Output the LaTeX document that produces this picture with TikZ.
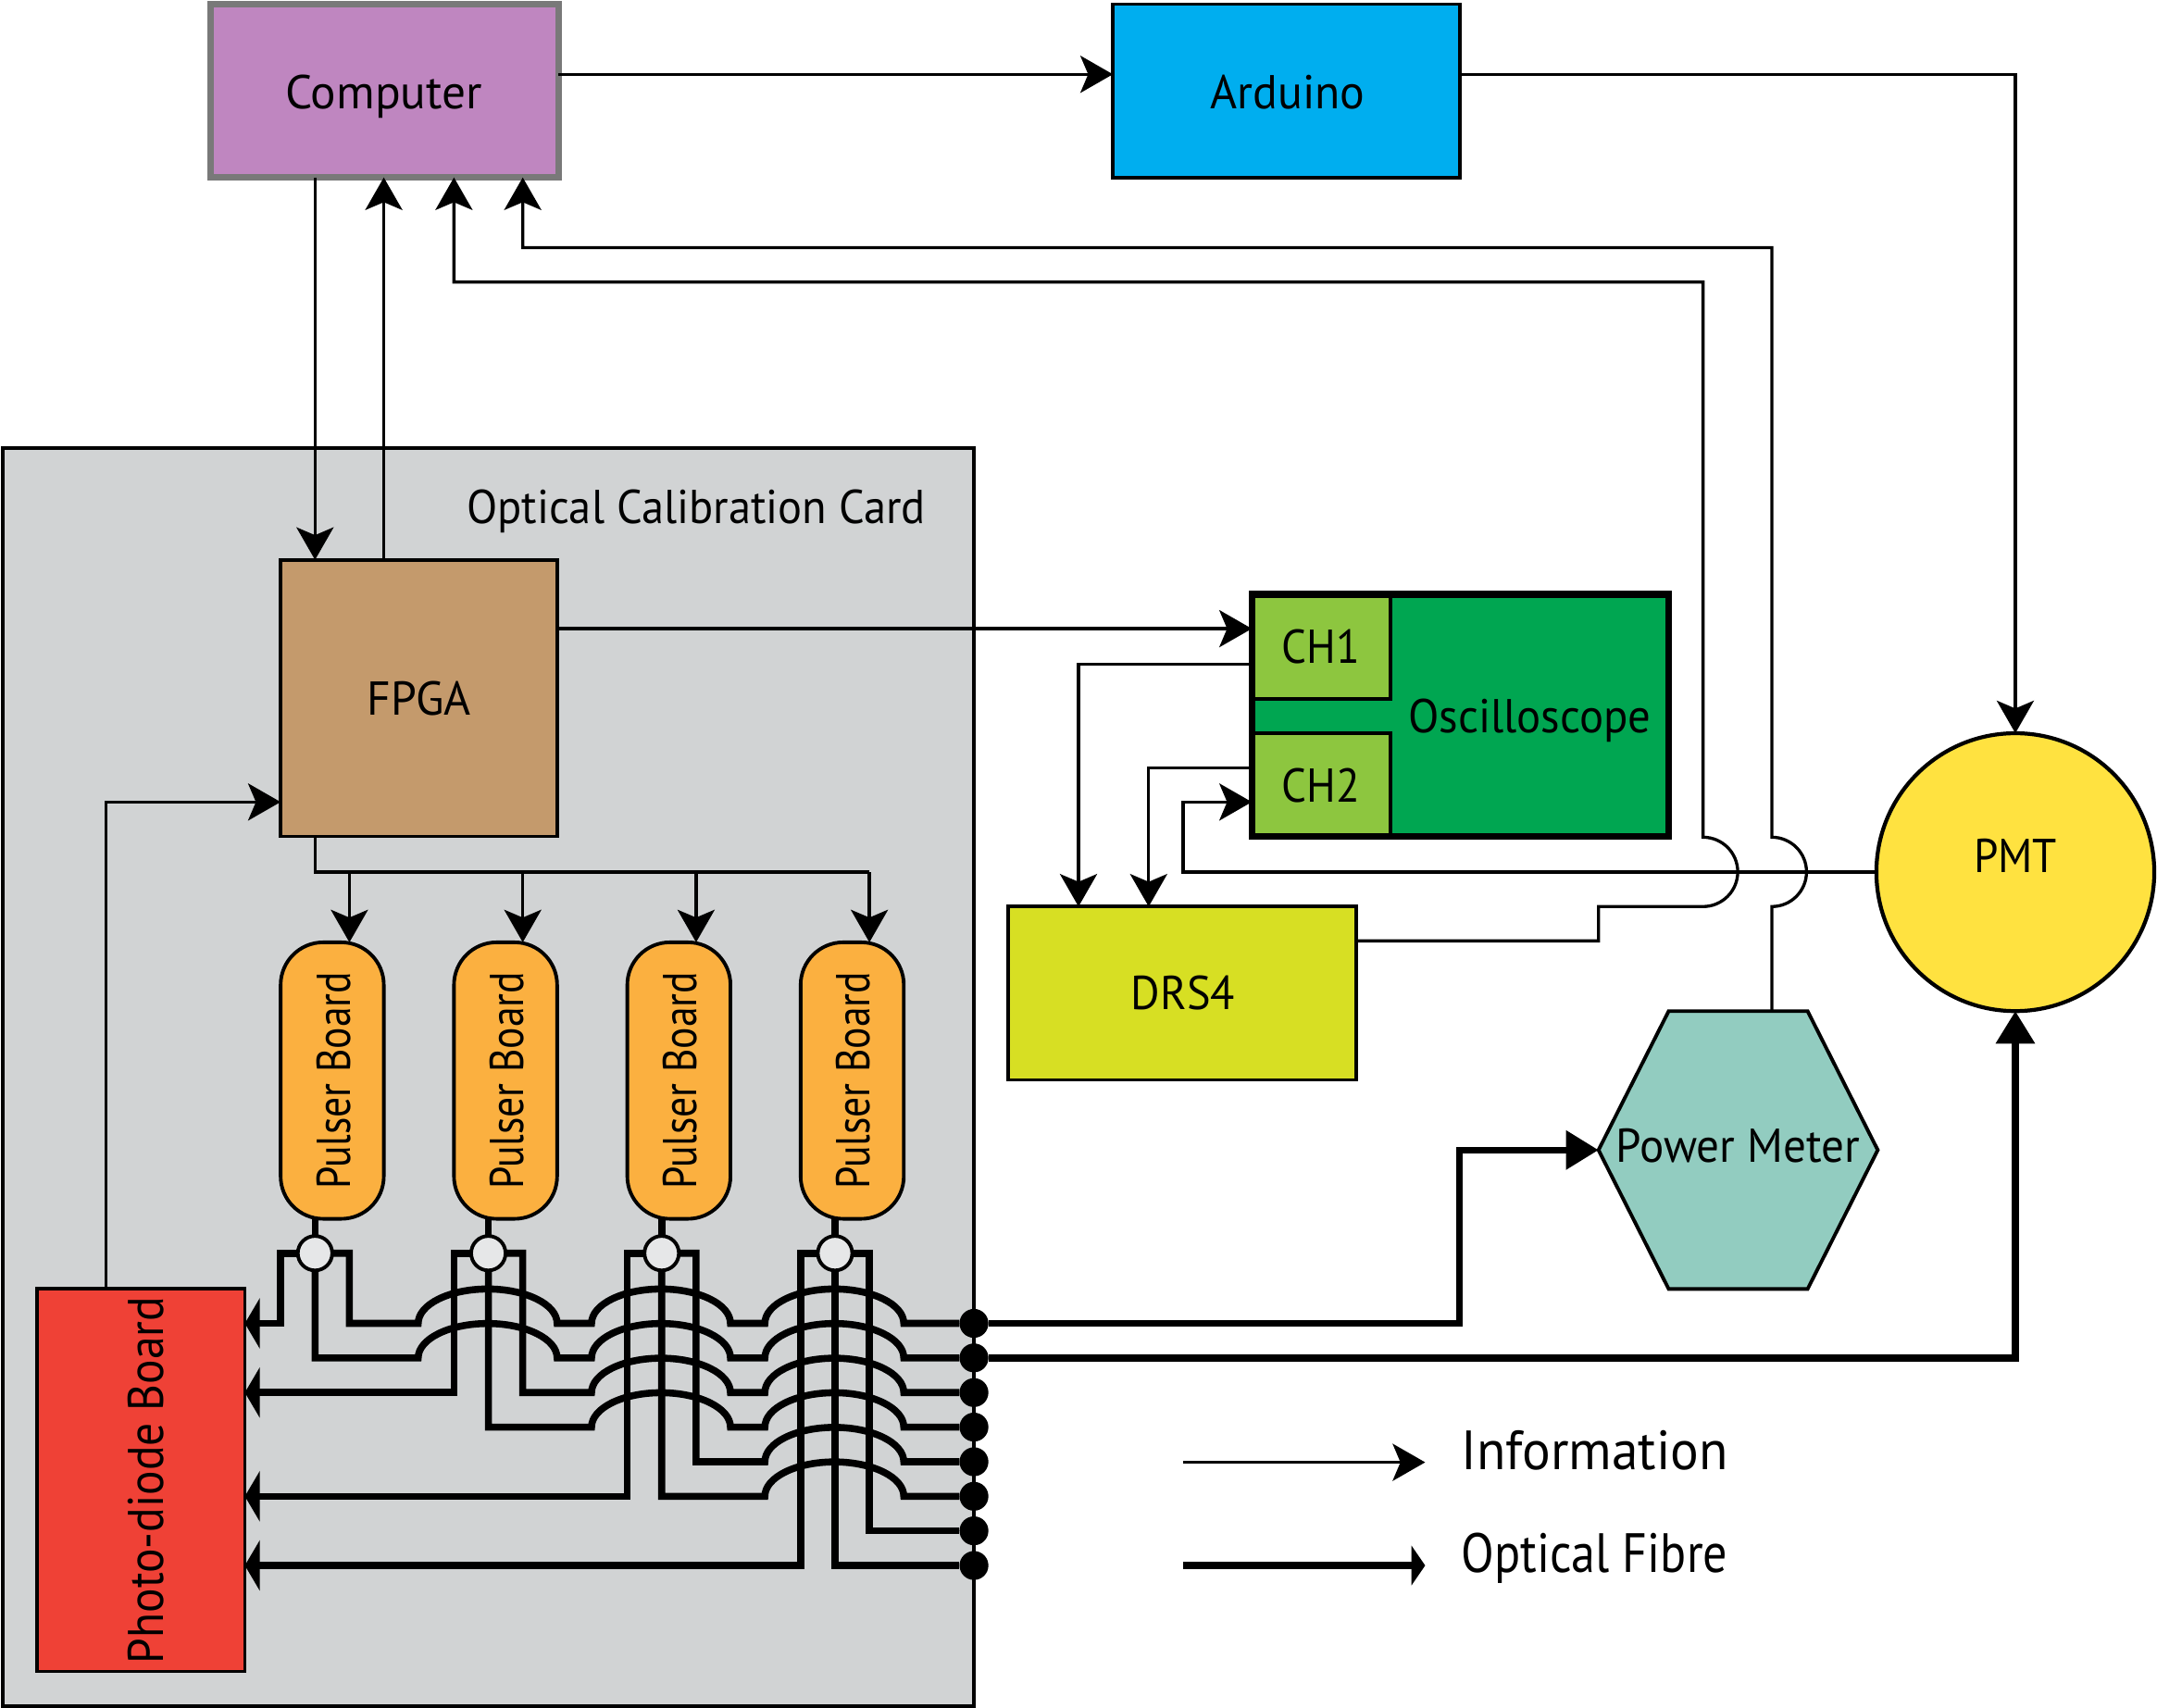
\documentclass[tikz,border=0pt]{standalone}
\usepackage{graphicx}
\usepackage{fontspec}
\setmainfont{PT Sans}
\usetikzlibrary{arrows.meta}
\def\uu{0.014860cm}
\def\hopa{arc[start angle=180,end angle=0,x radius=0.7504cm,y radius=0.3715cm]}
\def\hopb{arc[start angle=-90,end angle=90,radius=0.3745cm]}
\newcommand\sx[2]{\scalebox{#1}[1]{#2}}
\definecolor{cComp}{RGB}{191,134,192}
\definecolor{cArd}{RGB}{0,174,239}
\definecolor{cCard}{RGB}{209,211,212}
\definecolor{cFpga}{RGB}{196,154,108}
\definecolor{cPuls}{RGB}{251,176,64}
\definecolor{cPd}{RGB}{239,65,54}
\definecolor{cOsc}{RGB}{0,166,81}
\definecolor{cCh}{RGB}{141,198,63}
\definecolor{cDrs}{RGB}{215,223,35}
\definecolor{cPmt}{RGB}{255,226,64}
\definecolor{cPm}{RGB}{146,204,192}
\definecolor{cCirc}{RGB}{230,231,232}
\tikzset{
  x=\uu,y=-\uu,
  boxed/.style={draw=black,line width=1.1pt,outer sep=0pt,inner sep=0pt,align=center},
  lab/.style={font=\fontsize{14.6}{16}\selectfont,inner sep=0pt},
  leg/.style={font=\fontsize{17}{20}\selectfont,inner sep=0pt,anchor=west},
  info/.style={line width=0.95pt,-{Stealth[length=10pt,width=11.4pt,inset=2.4pt]}},
  plainline/.style={line width=0.95pt},
  fib/.style={line width=2.15pt},
  fiba/.style={line width=2.15pt,-{Stealth[length=4.6pt,width=15.4pt,inset=0pt]}},
  fibb/.style={line width=2.15pt,-{Stealth[length=10pt,width=11.6pt,inset=0pt]}},
  fibc/.style={line width=2.15pt,-{Stealth[length=4.2pt,width=12pt,inset=0pt]}},
  pulser/.style={boxed,fill=cPuls,minimum width=75*\uu,minimum height=201*\uu,rounded corners=0.46cm},
  splitter/.style={circle,draw=black,fill=cCirc,line width=1.1pt,minimum size=25*\uu,inner sep=0pt,outer sep=0pt},
  fibdot/.style={circle,fill=black,minimum size=21*\uu,inner sep=0pt,outer sep=0pt},
}
\begin{document}
\begin{tikzpicture}
\useasboundingbox (0,0) rectangle (1568,1241.6);
% card
\node[boxed,fill=cCard,minimum width=706*\uu,minimum height=914*\uu] (card) at (355,783) {};
\node[lab] (cardlab) at (506,372) {\sx{0.946}{Optical Calibration Card}};
% boxes
\node[boxed,fill=cComp,draw=gray!95!black,line width=2.1pt,minimum width=253*\uu,minimum height=126*\uu] (comp) at (279.5,66) {};
\node[lab] (complab) at (279,70) {Computer};
\node[boxed,fill=cArd,minimum width=252*\uu,minimum height=126*\uu] (ard) at (935,66) {};
\node[lab] (ardlab) at (936,67) {\sx{0.97}{Arduino}};
\node[boxed,fill=cFpga,minimum width=201*\uu,minimum height=201*\uu] (fpga) at (304.5,507.5) {};
\node[lab] (fpgalab) at (304.5,508) {\sx{0.97}{FPGA}};
\foreach \i/\cx in {1/241.5,2/367.5,3/493.5,4/619.5}{
  \node[pulser] (p\i) at (\cx,785.5) {};
  \node[lab,rotate=90] (pl\i) at (\cx+1,785.5) {\sx{0.85}{Pulser Board}};
}
\node[boxed,fill=cPd,minimum width=151*\uu,minimum height=278*\uu] (pd) at (102.5,1076) {};
\node[lab,font=\fontsize{15.4}{18}\selectfont,rotate=90] (pdlab) at (106,1076) {\sx{0.914}{Photo-diode Board}};
\node[boxed,fill=cOsc,draw=none,minimum width=303*\uu,minimum height=176*\uu] (osc) at (1061.5,520) {};
\node[boxed,fill=cCh,minimum width=101*\uu,minimum height=76*\uu] (ch1) at (960.5,470) {};
\node[boxed,fill=cCh,minimum width=101*\uu,minimum height=75*\uu] (ch2) at (960.5,570.5) {};
\draw[line width=2.1pt] (osc.south west) rectangle (osc.north east);
\node[lab] (ch1lab) at (960,470) {\sx{0.92}{CH1}};
\node[lab] (ch2lab) at (960,571) {\sx{0.92}{CH2}};
\node[lab] (osclab) at (1112,524) {\sx{0.95}{Oscilloscope}};
\node[boxed,fill=cDrs,minimum width=253*\uu,minimum height=126*\uu] (drs) at (859.5,722) {};
\node[lab] (drslab) at (860,722) {\sx{0.94}{DRS4}};
\node[circle,draw=black,line width=1.2pt,fill=cPmt,minimum size=202*\uu,inner sep=0pt,outer sep=0pt] (pmt) at (1465,634) {};
\node[lab] (pmtlab) at (1465,622) {\sx{0.92}{PMT}};
\coordinate (pmw) at (1162,836);
\coordinate (pmt1) at (1288,735);
\draw[line width=1.1pt,fill=cPm] (1162,836) -- (1213,735) -- (1314,735) -- (1365,836) -- (1314,937) -- (1213,937) -- cycle;
\node[lab] (pmlab) at (1263.5,833) {\sx{0.957}{Power Meter}};
% information
\draw[info] (comp.east |- 0,54) -- (ard.west |- 0,54);
\draw[info] (ard.east |- 0,54) -| (pmt.north);
\draw[info] (comp.south -| 229,0) -- (fpga.north -| 229,0);
\draw[info] (fpga.north -| 279,0) -- (comp.south -| 279,0);
\draw[info] (pmt1) -- (1288,659) \hopb -- (1288,180) -| (comp.south -| 380,0);
\draw[info] (drs.east |- 0,684) -| (1162,659) -- (1238,659) \hopb -- (1238,205) -| (comp.south -| 330,0);
\draw[info] (pmt.west) -| (860,583) -- (ch2.west |- 0,583);
\draw[info] (fpga.east |- 0,457) -- (ch1.west |- 0,457);
\draw[info] (ch1.west |- 0,483) -| (drs.north -| 784,0);
\draw[info] (ch2.west |- 0,558) -| (drs.north -| 835,0);
\draw[info] (pd.north -| 77,0) |- (fpga.west |- 0,583);
\draw[plainline] (fpga.south -| 229,0) -- (229,634) -- (632,634);
\foreach \i/\x in {1/254,2/380,3/506,4/632}{
  \draw[info] (\x,634) -- (p\i.north -| \x,0);
}
% fibre nodes
\foreach \i/\x in {1/229,2/355,3/481,4/607}{
  \node[splitter] (c\i) at (\x,911) {};
  \draw[fib] (p\i.south -| \x,0) -- (c\i.north);
}
\foreach \i/\y in {1/962,2/987.1,3/1012.3,4/1037.4,5/1062.6,6/1087.7,7/1112.8,8/1138}{
  \node[fibdot] (d\i) at (708,\y) {};
}
% into the photo-diode board
\draw[fiba] (c1.west) -| (204,962) -- (pd.east |- d1);
\draw[fiba] (c2.west) -| (330,1012.3) -- (pd.east |- d3);
\draw[fiba] (c3.west) -| (456,1087.7) -- (pd.east |- d6);
\draw[fiba] (c4.west) -| (582,1138) -- (pd.east |- d8);
% rows to the dots
\draw[fib] (c1.east) -| (254,962) -- (304,962) \hopa -- (430,962) \hopa -- (556,962) \hopa -- (d1);
\draw[fib] (c1.south) |- (304,987.1) \hopa -- (430,987.1) \hopa -- (556,987.1) \hopa -- (d2);
\draw[fib] (c2.east) -| (380,1012.3) -- (430,1012.3) \hopa -- (556,1012.3) \hopa -- (d3);
\draw[fib] (c2.south) |- (430,1037.4) \hopa -- (556,1037.4) \hopa -- (d4);
\draw[fib] (c3.east) -| (506,1062.6) -- (556,1062.6) \hopa -- (d5);
\draw[fib] (c3.south) |- (556,1087.7) \hopa -- (d6);
\draw[fib] (c4.east) -| (632,1112.8) -- (d7);
\draw[fib] (c4.south) |- (d8);
% out to the instruments
\draw[fibb] (d1) -| (1061,836) -- (pmw);
\draw[fibb] (d2) -| (pmt.south);
% legend
\coordinate (l1a) at (860,1063); \coordinate (l1b) at (1036,1063);
\coordinate (l2a) at (860,1138); \coordinate (l2b) at (1036,1138);
\draw[info] (l1a) -- (l1b);
\draw[fibc] (l2a) -- (l2b);
\node[leg] (leg1) at (1062,1054) {\sx{0.96}{Information}};
\node[leg] (leg2) at (1062,1133) {\sx{0.873}{Optical Fibre}};
\end{tikzpicture}
\end{document}
